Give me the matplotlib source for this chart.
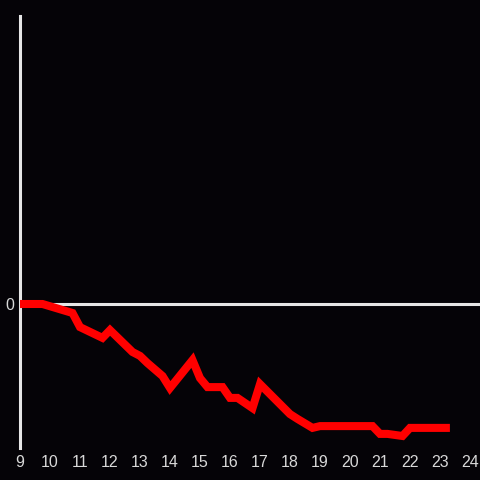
import matplotlib
matplotlib.use("Agg")
import matplotlib.pyplot as plt

# data (x in hours, y in arbitrary units)
hours = [9.0, 9.75, 10.75, 11.0, 11.75, 12.0, 12.75, 13.0, 13.25, 13.75, 14.0,
         14.75, 15.0, 15.25, 15.75, 16.0, 16.25, 16.75, 17.0, 18.0, 18.25,
         18.75, 19.0, 20.75, 21.0, 21.25, 21.75, 22.0, 23.33]
values = [0.0, 0.0, -0.30, -0.77, -1.13, -0.87, -1.60, -1.73, -1.97, -2.40, -2.80,
          -1.87, -2.47, -2.77, -2.77, -3.13, -3.13, -3.47, -2.67, -3.67, -3.83,
          -4.13, -4.07, -4.07, -4.33, -4.33, -4.40, -4.13, -4.13]
xticks = list(range(9, 25))
yticks = [0]

plt.rcParams['font.family'] = ['Liberation Sans', 'DejaVu Sans']

bg = "#050307"
fig = plt.figure(figsize=(4.8, 4.8), dpi=100, facecolor=bg)
ax = fig.add_axes([20/480, 32/480, 460/480, 432/480], facecolor=bg)

ax.axhline(0, color="#e6e6e6", lw=2.2, zorder=1)
ax.plot(hours, values, color="#ff0000", lw=5.8, solid_joinstyle="miter",
        solid_capstyle="butt", zorder=3)

ax.set_xlim(9, 9 + 460/30)
ax.set_ylim(-4.8, 9.6)
ax.set_xticks(xticks)
ax.set_xticklabels([str(t) for t in xticks])
ax.set_yticks(yticks)
ax.set_yticklabels([str(t) for t in yticks])
ax.tick_params(axis="both", length=0, colors="#d8d8d8", labelsize=11.5)
ax.tick_params(axis="x", pad=5)
ax.tick_params(axis="y", pad=4)

for s in ["top", "right", "bottom"]:
    ax.spines[s].set_visible(False)
ax.spines["left"].set_color("#e6e6e6")
ax.spines["left"].set_linewidth(2.2)

fig.savefig("out.png", dpi=100, facecolor=bg)
